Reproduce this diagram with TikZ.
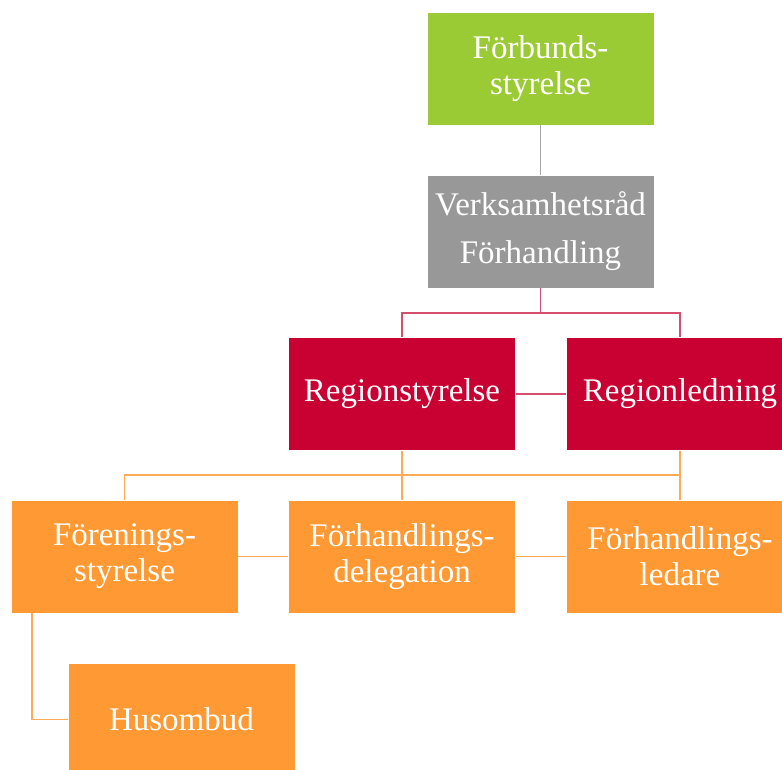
\documentclass[tikz,border=0pt]{standalone}
\usepackage{fontspec}
\setmainfont{Liberation Serif}
\definecolor{boardgreen}{HTML}{9BCB34}
\definecolor{councilgray}{HTML}{989898}
\definecolor{grayline}{HTML}{A8A8A8}
\definecolor{regionred}{HTML}{C90032}
\definecolor{localorange}{HTML}{FF9933}
\definecolor{redline}{HTML}{D84E6E}
\definecolor{orangeline}{HTML}{FFAA55}
\tikzset{
  box/.style={rectangle, minimum width=227pt, minimum height=113pt, draw=white, line width=0.6pt,
    text=white, align=center, font=\fontsize{33}{36}\selectfont},
  link/.style={line width=1.8pt}
}
\begin{document}
\begin{tikzpicture}[x=1pt, y=-1pt]
\useasboundingbox (0,0) rectangle (782,769);
\begin{scope}
\clip (0,0) rectangle (782,769);
\node[box, fill=boardgreen] (fs) at (540.5,68.5) {Förbunds-\\styrelse};
\node[box, fill=councilgray, font=\fontsize{33}{48}\selectfont] (vr) at (540.5,231.5) {Verksamhetsråd\\Förhandling};
\node[box, fill=regionred] (rs) at (402,394) {Regionstyrelse};
\node[box, fill=regionred] (rl) at (680,394) {Regionledning};
\node[box, fill=localorange] (fo) at (124.5,556.5) {Förenings-\\styrelse};
\node[box, fill=localorange] (fd) at (402,556.5) {Förhandlings-\\delegation};
\node[box, fill=localorange] (fl) at (680,556.5) {Förhandlings-\\ledare};
\node[box, fill=localorange] (hu) at (181.5,719.5) {Husombud};

\draw[link, draw=grayline] (fs) -- (vr);
\draw[link, draw=redline] (vr.south) -- ++(0,25) coordinate (rj);
\draw[link, draw=redline] (rs.north) |- (rj) -| (rl.north);
\draw[link, draw=redline] (rs) -- (rl);
\draw[link, draw=orangeline] (fo.north) -- ++(0,-25) coordinate (oj) -| (rl.south);
\draw[link, draw=orangeline] (rl) -- (fl);
\draw[link, draw=orangeline] (rs) -- (fd);
\draw[link, draw=orangeline] (fo) -- (fd);
\draw[link, draw=orangeline] (fd) -- (fl);
\draw[link, draw=orangeline] ([xshift=21pt]fo.south west) |- (hu.west);
\end{scope}
\end{tikzpicture}
\end{document}
